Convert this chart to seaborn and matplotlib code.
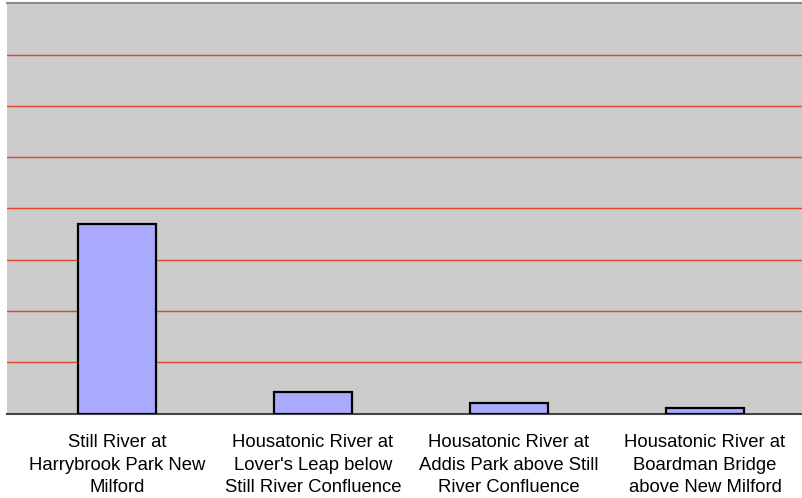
import matplotlib
matplotlib.use("Agg")
import matplotlib.pyplot as plt
import seaborn as sns
import pandas as pd
import numpy as np

sites = [
    "Still River at\nHarrybrook Park New\nMilford",
    "Housatonic River at\nLover's Leap below\nStill River Confluence",
    "Housatonic River at\nAddis Park above Still\nRiver Confluence",
    "Housatonic River at\nBoardman Bridge\nabove New Milford",
]
values = [3.70, 0.42, 0.21, 0.105]

df = pd.DataFrame({"site": sites, "value": values})

sns.set_style("white")
plt.rcParams["font.family"] = ["Liberation Sans", "DejaVu Sans"]

fig = plt.figure(figsize=(8.02, 4.98), dpi=100)
ax = fig.add_axes([7 / 802, 1 - 413.5 / 498, 795 / 802, 410 / 498])
ax.set_facecolor("#CCCCCC")

sns.barplot(data=df, x="site", y="value", color="#AAAAFF", width=0.40,
            edgecolor="black", linewidth=1.6, saturation=1, ax=ax, zorder=3)

ax.set_ylim(0, 8)
ax.set_xlim(-0.561, 3.495)
ax.set_yticks(np.arange(1, 8))
ax.yaxis.grid(True, color="#E0452A", linewidth=1.0, zorder=1)
ax.set_axisbelow(True)
ax.tick_params(axis="y", left=False, labelleft=False)

ax.set_xticks(range(len(sites)))
ax.set_xticklabels(sites, fontsize=13.3, linespacing=1.42, color="black")
ax.tick_params(axis="x", which="major", length=0, pad=15)
ax.set_xticks([-0.5, 0.5, 1.5, 2.5], minor=True)
ax.tick_params(axis="x", which="minor", length=6, width=1.2, color="#444444", direction="out")
ax.set_xlabel("")
ax.set_ylabel("")

for side in ["left", "right"]:
    ax.spines[side].set_visible(False)
ax.spines["top"].set_color("#8C8C8C")
ax.spines["top"].set_linewidth(1.5)
ax.spines["bottom"].set_color("#444444")
ax.spines["bottom"].set_linewidth(1.5)

fig.savefig("out.png", dpi=100, facecolor="white")
